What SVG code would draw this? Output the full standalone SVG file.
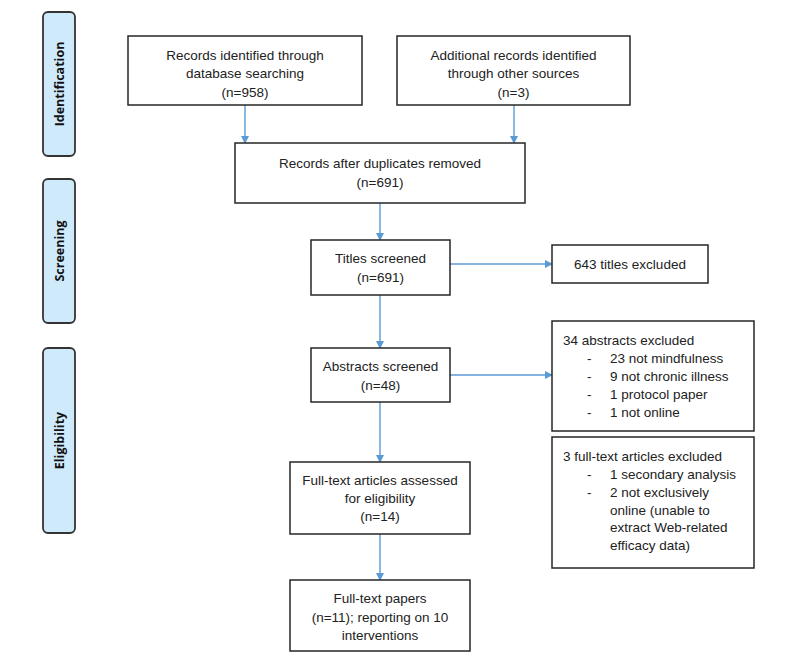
<svg xmlns="http://www.w3.org/2000/svg" width="800" height="660" viewBox="0 0 800 660">
<defs>
<marker id="ah" markerWidth="8" markerHeight="8" refX="7" refY="4" orient="auto" markerUnits="userSpaceOnUse">
<path d="M0,0 L8,4 L0,8 Z" fill="#5b9bd5"/>
</marker>
<style>
.box{fill:#fff;stroke:#262626;stroke-width:1.5}
.side{fill:#cfeafb;stroke:#333;stroke-width:1.8}
.t{font-family:"Liberation Sans",Arial,sans-serif;font-size:13.5px;fill:#222}
.c{text-anchor:middle}
.s{font-family:"Open Sans","Liberation Sans",sans-serif;font-size:12.5px;font-weight:700;fill:#111;text-anchor:middle}
.e{fill:none;stroke:#5b9bd5;stroke-width:1.4}
</style>
</defs>
<rect width="800" height="660" fill="#fff"/>

<g id="stage-identification"><rect class="side" x="43" y="12" width="32" height="144" rx="5"/><text class="s" transform="translate(63.5,84) rotate(-90)">Identification</text></g>
<g id="stage-screening"><rect class="side" x="43" y="179" width="32" height="144" rx="5"/><text class="s" transform="translate(63.5,251) rotate(-90)">Screening</text></g>
<g id="stage-eligibility"><rect class="side" x="43" y="348" width="32" height="185" rx="5"/><text class="s" transform="translate(63.5,440.5) rotate(-90)">Eligibility</text></g>

<g id="connectors">
<line class="e" x1="245" y1="105" x2="245" y2="143" marker-end="url(#ah)"/>
<line class="e" x1="514" y1="105" x2="514" y2="143" marker-end="url(#ah)"/>
<line class="e" x1="380" y1="203" x2="380" y2="240" marker-end="url(#ah)"/>
<line class="e" x1="450" y1="264" x2="552" y2="264" marker-end="url(#ah)"/>
<line class="e" x1="380" y1="295" x2="380" y2="348" marker-end="url(#ah)"/>
<line class="e" x1="450" y1="375" x2="552" y2="375" marker-end="url(#ah)"/>
<line class="e" x1="380" y1="402" x2="380" y2="462" marker-end="url(#ah)"/>
<line class="e" x1="380" y1="534" x2="380" y2="580" marker-end="url(#ah)"/>
</g>

<g id="db-search"><rect class="box" x="128" y="36" width="234" height="69"/>
<text class="t c" x="245" y="60">Records identified through</text>
<text class="t c" x="245" y="78">database searching</text>
<text class="t c" x="245" y="97">(n=958)</text></g>

<g id="other-sources"><rect class="box" x="397" y="36" width="233" height="69"/>
<text class="t c" x="513.5" y="60">Additional records identified</text>
<text class="t c" x="513.5" y="78">through other sources</text>
<text class="t c" x="513.5" y="97">(n=3)</text></g>

<g id="dedup"><rect class="box" x="235" y="143" width="290" height="60"/>
<text class="t c" x="380" y="168">Records after duplicates removed</text>
<text class="t c" x="380" y="187">(n=691)</text></g>

<g id="titles"><rect class="box" x="311" y="240" width="139" height="55"/>
<text class="t c" x="380.5" y="263">Titles screened</text>
<text class="t c" x="380.5" y="282">(n=691)</text></g>

<g id="titles-excluded"><rect class="box" x="552" y="245" width="156" height="38"/>
<text class="t c" x="630" y="268.5">643 titles excluded</text></g>

<g id="abstracts"><rect class="box" x="311" y="348" width="139" height="54"/>
<text class="t c" x="380.5" y="371">Abstracts screened</text>
<text class="t c" x="380.5" y="390">(n=48)</text></g>

<g id="abstracts-excluded"><rect class="box" x="552" y="321" width="202" height="110"/>
<text class="t" x="563" y="345">34 abstracts excluded</text>
<text class="t" x="587" y="363">-</text><text class="t" x="610" y="363">23 not mindfulness</text>
<text class="t" x="587" y="381">-</text><text class="t" x="610" y="381">9 not chronic illness</text>
<text class="t" x="587" y="398.5">-</text><text class="t" x="610" y="398.5">1 protocol paper</text>
<text class="t" x="587" y="416.5">-</text><text class="t" x="610" y="416.5">1 not online</text></g>

<g id="fulltext-excluded"><rect class="box" x="552" y="437" width="202" height="131"/>
<text class="t" x="563" y="461">3 full-text articles excluded</text>
<text class="t" x="587" y="479">-</text><text class="t" x="610" y="479">1 secondary analysis</text>
<text class="t" x="587" y="496.5">-</text><text class="t" x="610" y="496.5">2 not exclusively</text>
<text class="t" x="610" y="514.5">online (unable to</text>
<text class="t" x="610" y="532">extract Web-related</text>
<text class="t" x="610" y="550">efficacy data)</text></g>

<g id="fulltext-assessed"><rect class="box" x="290" y="462" width="180" height="72"/>
<text class="t c" x="380" y="485">Full-text articles assessed</text>
<text class="t c" x="380" y="503">for eligibility</text>
<text class="t c" x="380" y="521">(n=14)</text></g>

<g id="included"><rect class="box" x="290" y="580" width="180" height="71"/>
<text class="t c" x="380" y="603">Full-text papers</text>
<text class="t c" x="380" y="621.5">(n=11); reporting on 10</text>
<text class="t c" x="380" y="640">interventions</text></g>
</svg>
